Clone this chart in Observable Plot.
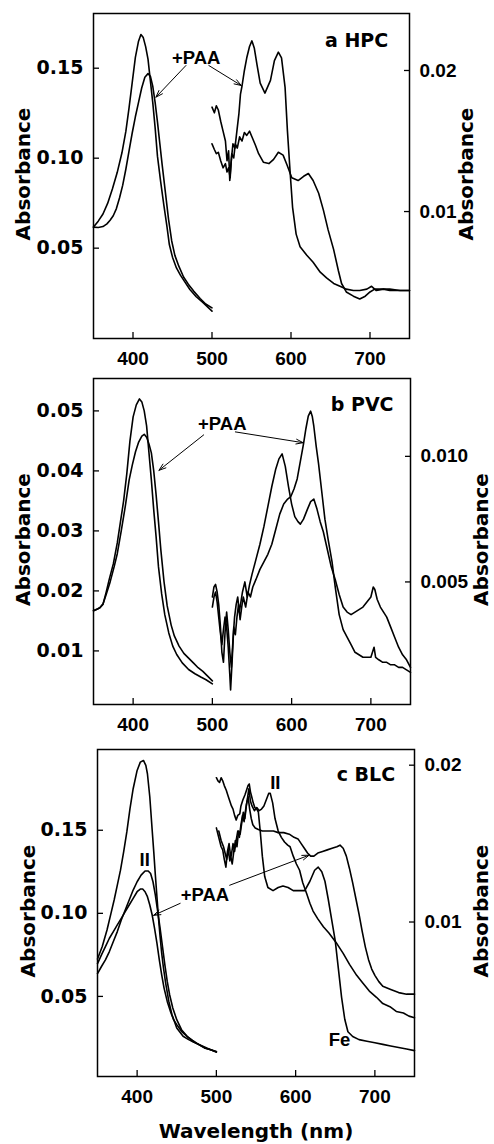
<!DOCTYPE html>
<html><head><meta charset="utf-8">
<script src="https://cdn.jsdelivr.net/npm/d3@7"></script>
<script src="https://cdn.jsdelivr.net/npm/@observablehq/plot@0.6"></script>
<style>
html,body{margin:0;padding:0;background:#fff;}
#chart{width:494px;overflow:hidden;}
#chart svg{display:block;}
</style></head><body><div id="chart"></div>
<script>
// ---------- shared ----------
const xDomain = [350, 750];
const xTicks = [400, 500, 600, 700];

// ---------- panel a: HPC ----------
const hpcSoretNative = [[350,0.0617],[356,0.065],[362,0.069],[368,0.075],[374,0.083],[380,0.092],[386,0.103],[391,0.115],[395,0.128],[399,0.142],[403,0.156],[407,0.165],[410,0.1687],[413,0.167],[416,0.162],[419,0.155],[422,0.143],[425,0.131],[428,0.117],[431,0.101],[435,0.087],[439,0.074],[443,0.062],[446,0.052],[450,0.045],[455,0.039],[460,0.035],[466,0.031],[472,0.027],[480,0.023],[488,0.020],[494,0.0175],[500,0.0150]];
const hpcSoretPaa = [[350,0.0617],[356,0.0615],[362,0.062],[367,0.0635],[371,0.0655],[375,0.068],[379,0.072],[383,0.078],[387,0.085],[391,0.094],[395,0.104],[399,0.114],[403,0.123],[407,0.131],[411,0.139],[415,0.145],[419,0.147],[422,0.1455],[425,0.140],[428,0.131],[431,0.120],[434,0.108],[437,0.096],[441,0.081],[445,0.066],[449,0.054],[453,0.046],[458,0.040],[464,0.034],[470,0.030],[477,0.026],[485,0.022],[492,0.019],[500,0.0168]];
const hpcQPaa = [[500,0.0174],[503,0.0170],[505.5,0.0175],[508,0.0172],[511,0.0164],[514,0.0157],[517,0.0150],[519,0.0136],[521,0.0143],[522.5,0.0122],[524,0.0134],[526.5,0.0148],[529,0.0145],[531.5,0.0157],[534,0.0169],[536,0.0183],[538,0.0189],[541,0.0200],[544,0.0209],[547.5,0.0217],[550.5,0.0221],[553.5,0.0216],[557,0.0204],[561,0.0191],[567,0.0184],[574,0.0193],[579,0.0207],[584,0.0213],[588,0.0209],[592.5,0.0188],[595.5,0.0157],[599,0.0127],[602,0.0103],[606.5,0.0084],[611.5,0.0075],[620,0.0069],[628,0.0064],[637,0.0057],[645,0.0053],[654,0.0049],[662,0.0047],[670,0.0045],[679,0.0044],[687,0.0044],[696,0.0045],[702,0.0047],[708,0.0044],[717,0.0045],[725,0.0044],[738,0.0044],[750,0.0044]];
const hpcQNative = [[500,0.0148],[503,0.0144],[505.5,0.0141],[508,0.0142],[511,0.0136],[514,0.0131],[517,0.0134],[519,0.0128],[521,0.0131],[523,0.0124],[525,0.0141],[527.5,0.0138],[529.5,0.0148],[532,0.0145],[535,0.0153],[538,0.0150],[541,0.0156],[544,0.0154],[547.5,0.0157],[550.5,0.0153],[555,0.0147],[559,0.0141],[565,0.0135],[572,0.0134],[578,0.0137],[584,0.0142],[590,0.0140],[595,0.0133],[601,0.0124],[609,0.0122],[616,0.0125],[622,0.0127],[628,0.0122],[635,0.0113],[641,0.0101],[647,0.0087],[654,0.0073],[660,0.0058],[664,0.0049],[670,0.0043],[679,0.0040],[687,0.0038],[694,0.0040],[700,0.0043],[706,0.0045],[715,0.0045],[725,0.0045],[738,0.0044],[750,0.0044]];
const hpcLeftTicks = [0.05, 0.10, 0.15];
const hpcRightTicks = [0.01, 0.02];
const hpcTitle = [{x: 723, y: 0.1654, text: "a HPC"}];
const hpcNotes = [{x: 480, y: 0.1554, text: "+PAA"}];
const hpcArrows = [{x1: 467, y1: 0.1515, x2: 429, y2: 0.1339}, {x1: 496, y1: 0.1515, x2: 537, y2: 0.1404}];

// ---------- panel b: PVC ----------
const pvcSoretNative = [[350,0.0167],[355,0.0170],[358,0.0172],[362,0.0178],[366,0.0198],[370,0.0220],[375,0.0245],[380,0.0280],[384,0.0315],[388,0.0350],[392,0.0395],[396,0.0450],[400,0.0490],[404,0.0510],[408,0.0520],[411,0.0515],[414,0.0500],[417,0.0475],[420,0.0430],[423,0.0385],[426,0.0335],[429,0.0290],[432,0.0240],[436,0.0195],[440,0.0160],[445,0.0130],[450,0.0108],[455,0.0094],[462,0.0080],[470,0.0069],[478,0.0062],[486,0.0056],[492,0.0052],[500,0.0045]];
const pvcSoretPaa = [[350,0.0167],[355,0.0170],[358,0.0172],[362,0.0178],[366,0.0194],[371,0.0215],[376,0.0240],[380,0.0262],[385,0.0300],[390,0.0340],[395,0.0385],[399,0.0410],[403,0.0432],[407,0.0448],[411,0.0458],[414,0.0461],[417,0.0456],[420,0.0445],[423,0.0430],[426,0.0400],[429,0.0360],[432,0.0315],[435,0.0268],[439,0.0215],[443,0.0175],[448,0.0143],[452,0.0125],[458,0.0108],[464,0.0096],[470,0.0088],[476,0.0080],[482,0.0072],[488,0.0066],[494,0.0058],[500,0.0050]];
const pvcQNative = [[500,0.0044],[502,0.0048],[504,0.0049],[506,0.0046],[508,0.0041],[510,0.0033],[512,0.0022],[514,0.0018],[516,0.0030],[518,0.0038],[520,0.0031],[522,0.0022],[524,0.0016],[526,0.0027],[528,0.0036],[530,0.0041],[532,0.0044],[534,0.0038],[536,0.0042],[538,0.0046],[541,0.0050],[544,0.0044],[547,0.0049],[550,0.0053],[555,0.0059],[560,0.0065],[565,0.0072],[570,0.0080],[575,0.0088],[580,0.0095],[584,0.0099],[588,0.0101],[592,0.0096],[596,0.0088],[600,0.0081],[604,0.0076],[608,0.0074],[611,0.0073],[615,0.0075],[620,0.0079],[624,0.0082],[628,0.0083],[632,0.0079],[636,0.0074],[640,0.0070],[645,0.0063],[650,0.0056],[655,0.0051],[660,0.0045],[665,0.0040],[670,0.0038],[675,0.0037],[680,0.0038],[685,0.0039],[690,0.0040],[695,0.0042],[700,0.0044],[703,0.0048],[705,0.0047],[708,0.0043],[712,0.0040],[716,0.0038],[720,0.0036],[725,0.0032],[730,0.0028],[735,0.0024],[740,0.0021],[745,0.0019],[750,0.0016]];
const pvcQPaa = [[500,0.0040],[502,0.0044],[504,0.0046],[506,0.0042],[508,0.0036],[510,0.0030],[512,0.0025],[514,0.0031],[516,0.0036],[518,0.0032],[520,0.0024],[522,0.0013],[523,0.0007],[525,0.0019],[527,0.0032],[529,0.0029],[531,0.0036],[533,0.0041],[535,0.0035],[537,0.0040],[539,0.0044],[542,0.0040],[545,0.0046],[548,0.0044],[551,0.0048],[555,0.0051],[560,0.0055],[565,0.0058],[570,0.0061],[575,0.0065],[580,0.0071],[585,0.0077],[590,0.0081],[595,0.0083],[599,0.0084],[603,0.0087],[607,0.0091],[611,0.0098],[615,0.0105],[618,0.0111],[621,0.0116],[624,0.0118],[626,0.0116],[628,0.0112],[631,0.0104],[634,0.0097],[638,0.0086],[642,0.0075],[646,0.0067],[651,0.0058],[655,0.0048],[660,0.0037],[665,0.0031],[670,0.0028],[675,0.0025],[680,0.0022],[685,0.0021],[690,0.0020],[695,0.0020],[700,0.0020],[702,0.0022],[704,0.0024],[706,0.0020],[710,0.0019],[715,0.0018],[720,0.0018],[725,0.0017],[730,0.0017],[735,0.0016],[740,0.0016],[745,0.0015],[750,0.0014]];
const pvcLeftTicks = [0.01, 0.02, 0.03, 0.04, 0.05];
const pvcRightTicks = [0.005, 0.010];
const pvcTitle = [{x: 728.6, y: 0.0510, text: "b PVC"}];
const pvcNotes = [{x: 512.5, y: 0.0478, text: "+PAA"}];
const pvcArrows = [{x1: 489, y1: 0.0460, x2: 432.6, y2: 0.0401}, {x1: 529, y1: 0.0465, x2: 614.5, y2: 0.0447}];

// ---------- panel c: BLC ----------
const blcSoretFe = [[350,0.0725],[356,0.080],[362,0.090],[367,0.100],[371,0.108],[375,0.117],[379,0.126],[383,0.137],[387,0.149],[391,0.163],[395,0.175],[400,0.186],[404,0.191],[408,0.192],[411,0.189],[413,0.184],[416,0.170],[419,0.150],[421,0.137],[423,0.123],[425,0.110],[427,0.097],[429,0.086],[431,0.076],[433,0.068],[436,0.058],[440,0.047],[444,0.039],[450,0.031],[458,0.026],[465,0.024],[471,0.0225],[478,0.021],[485,0.0195],[492,0.018],[500,0.0165]];
const blcSoretII = [[350,0.0637],[355,0.068],[360,0.072],[365,0.077],[370,0.083],[375,0.089],[380,0.096],[385,0.102],[390,0.108],[395,0.114],[400,0.119],[405,0.123],[410,0.1255],[414,0.1255],[417,0.124],[420,0.119],[423,0.111],[426,0.101],[429,0.091],[432,0.080],[435,0.069],[438,0.059],[441,0.051],[445,0.043],[450,0.036],[456,0.030],[463,0.026],[470,0.0235],[478,0.021],[485,0.019],[492,0.018],[500,0.0165]];
const blcSoretPaa = [[350,0.0697],[355,0.075],[360,0.080],[365,0.085],[370,0.089],[375,0.093],[380,0.097],[385,0.101],[390,0.105],[395,0.109],[400,0.113],[404,0.1146],[407,0.1146],[410,0.113],[413,0.110],[416,0.105],[419,0.099],[422,0.091],[425,0.082],[428,0.072],[431,0.063],[434,0.055],[438,0.047],[442,0.041],[446,0.036],[450,0.033],[456,0.029],[463,0.026],[470,0.023],[478,0.021],[485,0.019],[492,0.018],[500,0.0168]];
const blcQFe = [[500,0.0192],[502,0.0190],[504,0.0189],[506,0.0192],[508,0.0190],[510,0.0187],[512.5,0.0184],[515,0.0180],[517,0.0177],[519,0.0174],[521,0.0172],[523,0.0168],[525,0.0165],[527,0.0168],[529.5,0.0169],[531,0.0174],[533.5,0.0178],[536,0.0181],[538,0.0184],[540,0.0187],[541.5,0.0188],[543,0.0183],[544.5,0.0180],[546.5,0.0176],[548.5,0.0173],[551,0.0172],[553,0.0170],[555.5,0.0157],[558,0.0142],[561,0.0129],[565,0.0122],[571.5,0.0120],[578,0.0122],[584,0.0123],[590.5,0.0122],[597,0.0120],[603,0.0120],[611.5,0.0120],[618,0.0126],[624,0.0133],[628.5,0.0135],[633,0.0132],[637,0.0126],[641,0.0115],[645,0.0103],[650,0.0088],[654,0.0070],[658,0.0052],[662,0.0038],[666,0.0030],[672,0.0027],[680,0.0025],[690,0.0024],[700,0.0023],[710,0.0022],[720,0.0021],[730,0.0020],[740,0.0019],[750,0.0018]];
const blcQII = [[503,0.0158],[506,0.0152],[509,0.0148],[511,0.0144],[513,0.0140],[515,0.0146],[517,0.0139],[519,0.0143],[521,0.0150],[523,0.0145],[525,0.0152],[527,0.0158],[529,0.0154],[531,0.0162],[533,0.0168],[535,0.0164],[537,0.0172],[539,0.0178],[541,0.0185],[543,0.0177],[545,0.0174],[548,0.0171],[551,0.0173],[554,0.0171],[557,0.0172],[560,0.0174],[563,0.0178],[566,0.0182],[568,0.0182],[571,0.0176],[574,0.0166],[578,0.0158],[582,0.0154],[586,0.0151],[590,0.0149],[593,0.0148],[597,0.0142],[601,0.0137],[605,0.0133],[609,0.0125],[614,0.0118],[618,0.0112],[622,0.0107],[628,0.0102],[635,0.0097],[642,0.0093],[651,0.0087],[660,0.0080],[668,0.0073],[677,0.0066],[685,0.0061],[693,0.0056],[702,0.0052],[710,0.0048],[719,0.0046],[727,0.0043],[736,0.0042],[743,0.0040],[750,0.0039]];
const blcQPaa = [[500,0.0160],[502,0.0156],[504,0.0152],[506,0.0148],[508,0.0146],[510,0.0140],[512,0.0135],[514,0.0145],[516,0.0150],[518,0.0142],[520,0.0137],[522,0.0145],[524,0.0152],[526,0.0148],[528,0.0158],[530,0.0156],[532,0.0163],[534,0.0170],[536,0.0166],[538,0.0175],[540,0.0180],[542,0.0172],[544,0.0166],[546,0.0162],[549,0.0160],[553,0.0159],[558,0.0158],[565,0.0158],[572,0.0158],[578,0.0157],[585,0.0157],[592,0.0156],[598,0.0154],[603,0.0153],[607,0.0150],[611,0.0147],[615,0.0144],[619,0.0142],[623,0.0142],[628,0.0144],[634,0.0145],[640,0.0146],[646,0.0147],[652,0.0148],[656,0.0149],[660,0.0147],[664,0.0142],[668,0.0134],[672,0.0125],[676,0.0115],[680,0.0105],[684,0.0094],[688,0.0084],[692,0.0076],[696,0.0070],[700,0.0066],[705,0.0062],[710,0.0059],[720,0.0057],[730,0.0055],[740,0.0054],[750,0.0054]];
const blcLeftTicks = [0.05, 0.10, 0.15];
const blcRightTicks = [0.01, 0.02];
const blcTitle = [{x: 725.5, y: 0.1831, text: "c BLC"}];
const blcNotes = [{x: 409.6, y: 0.1319, text: "II"}, {x: 574.4, y: 0.1781, text: "II"}, {x: 485.5, y: 0.1108, text: "+PAA"}, {x: 655.4, y: 0.0235, text: "Fe"}];
const blcArrows = [{x1: 454.3, y1: 0.1060, x2: 420.8, y2: 0.0988}, {x1: 516.8, y1: 0.1169, x2: 617, y2: 0.1350}];

// ---------- styles ----------
const tickFontX = {fontFamily: "Liberation Sans, Arial, sans-serif", fontSize: 19, fontWeight: "bold"};
const tickFontL = {fontFamily: "DejaVu Sans, sans-serif", fontSize: 19, fontWeight: "bold"};
const tickFontR = {fontFamily: "Liberation Sans, Arial, sans-serif", fontSize: 19, fontWeight: "bold"};
const labelFont = {fontFamily: "DejaVu Sans, sans-serif", fontSize: 20, fontWeight: "bold"};
const titleFont = {fontFamily: "DejaVu Sans, sans-serif", fontSize: 19, fontWeight: "bold"};
const noteFont = {fontFamily: "Liberation Sans, Arial, sans-serif", fontSize: 18.5, fontWeight: "bold"};
const lineStyle = {stroke: "black", strokeWidth: 1.6};

function makePanel(cfg) {
  const toLeft = d3.scaleLinear().domain(cfg.rDomain).range(cfg.yDomain);
  const marks = [
    ...cfg.leftCurves.map(c => Plot.line(c, {x: d => d[0], y: d => d[1], ...lineStyle})),
    ...cfg.rightCurves.map(c => Plot.line(c, {x: d => d[0], y: d => toLeft(d[1]), ...lineStyle})),
    Plot.frame({stroke: "black", strokeWidth: 1.5}),
    Plot.axisX(xTicks, {anchor: "bottom", tickSize: -6, tickPadding: 19, strokeWidth: 1.3, label: null, ...tickFontX}),
    Plot.axisY(cfg.lTicks, {anchor: "left", tickSize: -6, tickPadding: 16, strokeWidth: 1.3, label: null, tickFormat: d3.format(cfg.lFmt), ...tickFontL}),
    Plot.axisY(cfg.rTicks.map(toLeft), {anchor: "right", tickSize: -6, tickPadding: 16, strokeWidth: 1.3, label: null, tickFormat: d => d3.format(cfg.rFmt)(toLeft.invert(d)), ...tickFontR}),
    Plot.text(["Absorbance"], {text: d => d, frameAnchor: "left", textAnchor: "middle", lineAnchor: "middle", rotate: -90, dx: cfg.lLabelDx, dy: -2, ...labelFont}),
    Plot.text(["Absorbance"], {text: d => d, frameAnchor: "right", textAnchor: "middle", lineAnchor: "middle", rotate: -90, dx: cfg.rLabelDx, dy: -2, ...labelFont}),
    Plot.text(cfg.title, {x: "x", y: "y", text: "text", textAnchor: "end", ...titleFont}),
    Plot.text(cfg.notes, {x: "x", y: "y", text: "text", ...noteFont}),
    Plot.arrow(cfg.arrows, {x1: "x1", y1: "y1", x2: "x2", y2: "y2", stroke: "black", strokeWidth: 1, headLength: 11, headAngle: 38})
  ];
  if (cfg.xLabel) marks.push(Plot.text([cfg.xLabel], {text: d => d, frameAnchor: "bottom", textAnchor: "middle", lineAnchor: "middle", dy: 55, ...labelFont}));
  return Plot.plot({
    width: 494, height: cfg.height,
    marginTop: cfg.mt, marginBottom: cfg.mb, marginLeft: cfg.ml, marginRight: cfg.mr,
    x: {domain: xDomain, axis: null},
    y: {domain: cfg.yDomain, axis: null},
    style: {background: "white", color: "black"},
    marks
  });
}

const chart = document.getElementById("chart");
chart.append(makePanel({
  height: 372, mt: 13, mb: 34, ml: 93, mr: 85,
  yDomain: [-0.0002, 0.1804], rDomain: [0.0010, 0.02404],
  lTicks: hpcLeftTicks, lFmt: ".2f", rTicks: hpcRightTicks, rFmt: ".2f",
  leftCurves: [hpcSoretNative, hpcSoretPaa], rightCurves: [hpcQPaa, hpcQNative],
  title: hpcTitle, notes: hpcNotes, arrows: hpcArrows, lLabelDx: -70, rLabelDx: 57
}));
chart.append(makePanel({
  height: 368, mt: 6, mb: 36, ml: 93, mr: 84,
  yDomain: [0.00107, 0.0554], rDomain: [0.00012, 0.0131],
  lTicks: pvcLeftTicks, lFmt: ".2f", rTicks: pvcRightTicks, rFmt: ".3f",
  leftCurves: [pvcSoretNative, pvcSoretPaa], rightCurves: [pvcQNative, pvcQPaa],
  title: pvcTitle, notes: pvcNotes, arrows: pvcArrows, lLabelDx: -70, rLabelDx: 71
}));
chart.append(makePanel({
  height: 404, mt: 9, mb: 68, ml: 97, mr: 80,
  yDomain: [0.0018, 0.1986], rDomain: [0.00015, 0.0210],
  lTicks: blcLeftTicks, lFmt: ".2f", rTicks: blcRightTicks, rFmt: ".2f",
  leftCurves: [blcSoretFe, blcSoretII, blcSoretPaa], rightCurves: [blcQFe, blcQII, blcQPaa],
  title: blcTitle, notes: blcNotes, arrows: blcArrows, lLabelDx: -69, rLabelDx: 67,
  xLabel: "Wavelength (nm)"
}));
</script></body></html>
